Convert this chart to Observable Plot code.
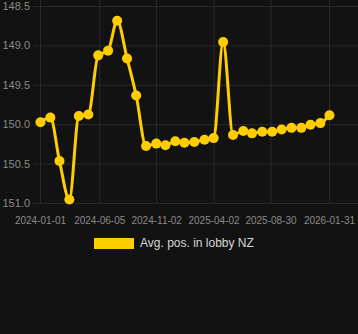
<!DOCTYPE html>
<html>
<head>
<meta charset="utf-8">
<script src="https://cdn.jsdelivr.net/npm/d3@7"></script>
<script src="https://cdn.jsdelivr.net/npm/@observablehq/plot@0.6"></script>
<style>
  html, body { margin: 0; padding: 0; background: #121212; width: 358px; height: 334px; overflow: hidden; }
  #chart { position: absolute; left: 0; top: 0; }
  #legend { position: absolute; left: 94px; top: 236px; display: flex; align-items: center; font-family: "Liberation Sans", Arial, sans-serif; font-size: 12px; color: #d6d6d6; }
  #legend .sw { width: 40px; height: 11px; background: #ffcd00; margin-right: 6px; }
</style>
</head>
<body>
<div id="chart"></div>
<div id="legend"><div class="sw"></div><span id="legtext"></span></div>
<script>
const seriesName = "Avg. pos. in lobby NZ";
const dates = ["2024-01-01","2024-01-27","2024-02-20","2024-03-17","2024-04-11","2024-05-06","2024-06-01","2024-06-27","2024-07-21","2024-08-16","2024-09-09","2024-10-05","2024-11-01","2024-11-25","2024-12-21","2025-01-14","2025-02-09","2025-03-08","2025-04-01","2025-04-26","2025-05-22","2025-06-18","2025-07-11","2025-08-07","2025-09-02","2025-09-27","2025-10-23","2025-11-18","2025-12-12","2026-01-07","2026-01-31"];
const values = [149.97,149.91,150.46,150.95,149.89,149.87,149.12,149.06,148.68,149.16,149.63,150.27,150.24,150.26,150.21,150.23,150.22,150.19,150.17,148.95,150.13,150.08,150.11,150.09,150.09,150.06,150.04,150.04,150.00,149.98,149.88];
const xTickLabels = ["2024-01-01","2024-06-05","2024-11-02","2025-04-02","2025-08-30","2026-01-31"];
const yTicks = [148.5,149.0,149.5,150.0,150.5,151.0];

document.getElementById("legtext").textContent = seriesName;

const data = dates.map((d, i) => ({date: new Date(d), value: values[i]}));
const xTicks = xTickLabels.map(d => new Date(d));
const DAY = 86400000;
const x0 = new Date(xTicks[0].getTime() - 18.4 * DAY);
const x1 = new Date(xTicks[xTicks.length - 1].getTime() + 76.4 * DAY);
const lineColor = "#ffcd00";
const gridColor = "#2a2a2a";

const chart = Plot.plot({
  width: 358,
  height: 228,
  marginLeft: 33,
  marginRight: 0,
  marginTop: 6,
  marginBottom: 25,
  style: {background: "transparent", color: "#8a8a8a", fontFamily: "'Liberation Sans', Arial, sans-serif", fontSize: "10px"},
  x: {type: "utc", domain: [x0, x1]},
  y: {domain: [148.5, 151.0], reverse: true},
  marks: [
    Plot.ruleY(yTicks, {stroke: gridColor, strokeWidth: 1}),
    Plot.ruleX(xTicks, {y1: 148.42, y2: 151.0, stroke: gridColor, strokeWidth: 1}),
    Plot.axisY({ticks: yTicks, tickSize: 0, tickPadding: 3.5, tickFormat: d3.format(".1f"), fontSize: 11, label: null, fill: "#8a8a8a"}),
    Plot.axisX({ticks: xTicks, tickSize: 0, tickPadding: 13, tickFormat: d3.utcFormat("%Y-%m-%d"), fontSize: 10, label: null, fill: "#8a8a8a"}),
    Plot.line(data, {x: "date", y: "value", stroke: lineColor, strokeWidth: 3, curve: "monotone-x"}),
    Plot.dot(data, {x: "date", y: "value", fill: lineColor, r: 5})
  ]
});
document.getElementById("chart").appendChild(chart);
</script>
</body>
</html>
